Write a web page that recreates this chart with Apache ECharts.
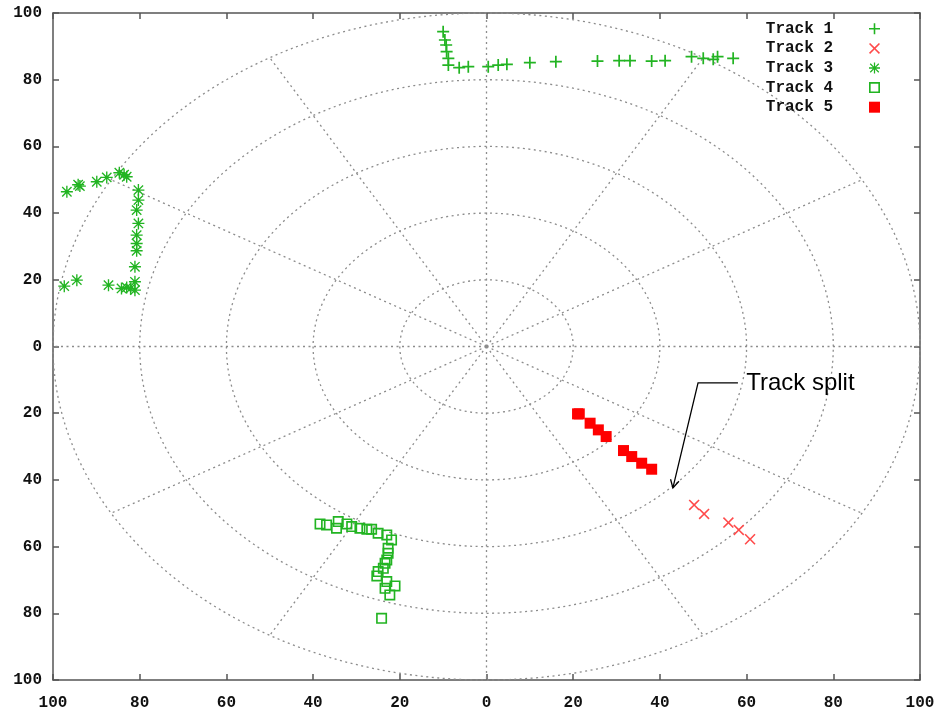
<!DOCTYPE html>
<html><head><meta charset="utf-8">
<script src="https://cdn.jsdelivr.net/npm/echarts@6/dist/echarts.min.js"></script>
<style>html,body{margin:0;padding:0;background:#fff}#c{width:945px;height:713px}</style>
</head><body><div id="c"></div>
<script>
// ---- data ----
const seriesNames = ['Track 1', 'Track 2', 'Track 3', 'Track 4', 'Track 5'];
const tickLabels = ['100', '80', '60', '40', '20', '0', '20', '40', '60', '80', '100'];

const track1X = [-10.0, -9.6, -9.3, -9.2, -8.8, -8.8, -6.3, -4.2, 0.4, 2.7, 4.7, 10.0, 16.0, 25.6, 30.6, 33.1, 38.1, 41.2, 47.3, 50.0, 52.3, 53.3, 56.9];
const track1Y = [94.4, 91.9, 90.4, 88.4, 86.4, 84.4, 83.6, 83.9, 83.9, 84.4, 84.6, 85.1, 85.4, 85.6, 85.7, 85.7, 85.6, 85.7, 86.9, 86.4, 86.1, 86.9, 86.4];

const track2X = [47.9, 50.2, 55.8, 58.2, 60.8];
const track2Y = [-47.5, -50.2, -52.8, -55.0, -57.8];

const track3X = [-96.8, -93.8, -94.2, -89.9, -87.6, -84.7, -83.6, -83.0, -80.3, -80.3, -80.7, -80.3, -80.7, -80.7, -80.7, -81.1, -81.1, -81.1, -82.1, -83.0, -84.2, -87.2, -94.5, -97.4];
const track3Y = [46.4, 48.1, 48.5, 49.4, 50.7, 52.1, 51.5, 50.9, 46.9, 43.9, 40.9, 36.9, 33.4, 30.9, 28.7, 23.9, 19.4, 16.9, 17.4, 17.7, 17.4, 18.4, 19.9, 18.1];

const track4X = [-38.4, -36.9, -34.2, -34.6, -32.2, -31.1, -29.2, -27.6, -26.5, -25.0, -23.0, -21.9, -22.7, -22.7, -23.0, -23.4, -23.8, -25.0, -25.3, -23.0, -21.1, -23.4, -22.3, -24.2];
const track4Y = [-53.2, -53.5, -52.5, -54.5, -53.2, -54.0, -54.5, -54.8, -54.8, -56.0, -56.5, -58.0, -60.5, -62.0, -64.0, -65.0, -66.5, -67.5, -68.8, -70.5, -71.8, -72.5, -74.5, -81.5];

const track5X = [21.0, 21.4, 23.9, 25.8, 27.6, 31.6, 33.5, 35.8, 38.1];
const track5Y = [-20.2, -20.2, -23.0, -25.0, -27.0, -31.2, -33.0, -35.0, -36.8];

// polar grid
const gridRadii = [20, 40, 60, 80, 100];
const gridAngles = [0, 30, 60, 90, 120, 150, 180, 210, 240, 270, 300, 330];

// annotation (data coordinates)
const annotationText = 'Track split';
const annotationPath = [[58.0, -10.9], [48.8, -10.9], [43.0, -42.4]];
const annotationTextAt = [59.9, -11.2];

// ---- helpers ----
const zip = (xs, ys) => xs.map((x, i) => [x, ys[i]]);
const GREEN = '#22b422';
const gridColor = '#8c8c8c';
const monoFont = 'Liberation Mono';

const symPlus = 'path://M6,0h2v6h6v2h-6v6h-2v-6h-6v-2h6z';
const symCross = 'path://M0,1.4L1.4,0L7,5.6L12.6,0L14,1.4L8.4,7L14,12.6L12.6,14L7,8.4L1.4,14L0,12.6L5.6,7Z';
const symStar = 'path://M6.2,0h1.6v6.2h6.2v1.6h-6.2v6.2h-1.6v-6.2h-6.2v-1.6h6.2z M1,2.1L2.1,1L7,5.9L11.9,1L13,2.1L8.1,7L13,11.9L11.9,13L7,8.1L2.1,13L1,11.9L5.9,7Z';
const symEmptySq = 'path://M0,0h10v10h-10z M1.5,1.5v7h7v-7z';
const symFullSq = 'rect';

function axis(pos, showLabel, margin) {
  return {
    type: 'value', min: -100, max: 100, interval: 20, position: pos,
    axisLine: { show: true, onZero: false, lineStyle: { color: '#555', width: 1.5 } },
    axisTick: { show: true, inside: true, length: 6, lineStyle: { color: '#555', width: 1.5 } },
    axisLabel: {
      show: showLabel, margin: margin, showMinLabel: true, showMaxLabel: true,
      formatter: v => tickLabels[Math.round((v + 100) / 20)],
      fontFamily: monoFont, fontWeight: 'bold', fontSize: 16, color: '#111'
    },
    splitLine: { show: false }
  };
}

const chart = echarts.init(document.getElementById('c'), null, { renderer: 'canvas' });

const option = {
  animation: false,
  backgroundColor: '#fff',
  grid: { left: 53, top: 13, right: 25, bottom: 33, containLabel: false, outerBoundsMode: 'none' },
  xAxis: [axis('bottom', true, 15), axis('top', false, 8)],
  yAxis: [axis('left', true, 11), axis('right', false, 8)],
  legend: {
    orient: 'vertical', right: 60, top: 14, align: 'right',
    itemWidth: 11, itemHeight: 11, itemGap: 0, selectedMode: false,
    textStyle: { fontFamily: monoFont, fontWeight: 'bold', fontSize: 16, color: '#111', lineHeight: 19.6, padding: [0, 31, 0, 0] },
    data: seriesNames
  },
  series: [
    {
      type: 'custom', name: 'ringsGrid', silent: true, z: 1, clip: false,
      data: gridRadii.map(r => [0, 0, r]),
      renderItem: function (params, api) {
        const r = api.value(2);
        const pts = [];
        for (let k = 0; k <= 240; k++) {
          const t = k * 2 * Math.PI / 240;
          pts.push(api.coord([r * Math.cos(t), r * Math.sin(t)]));
        }
        return { type: 'polyline', shape: { points: pts }, silent: true,
          style: { stroke: gridColor, lineWidth: 1.3, lineDash: [2, 3.5], fill: null } };
      }
    },
    {
      type: 'custom', name: 'spokesGrid', silent: true, z: 1, clip: false,
      data: gridAngles.map(a => [0, 0, a]),
      renderItem: function (params, api) {
        const a = api.value(2) * Math.PI / 180;
        const R = gridRadii[gridRadii.length - 1];
        const p0 = api.coord([0, 0]);
        const p1 = api.coord([R * Math.cos(a), R * Math.sin(a)]);
        return { type: 'line', shape: { x1: p0[0], y1: p0[1], x2: p1[0], y2: p1[1] }, silent: true,
          style: { stroke: gridColor, lineWidth: 1.3, lineDash: [2, 3.5] } };
      }
    },
    { type: 'scatter', name: seriesNames[0], data: zip(track1X, track1Y), symbol: symPlus, symbolSize: 12, itemStyle: { color: GREEN, opacity: 1 }, z: 3 },
    { type: 'scatter', name: seriesNames[1], data: zip(track2X, track2Y), symbol: symCross, symbolSize: 11, itemStyle: { color: '#ff4a4a', opacity: 1 }, z: 3 },
    { type: 'scatter', name: seriesNames[2], data: zip(track3X, track3Y), symbol: symStar, symbolSize: 12, itemStyle: { color: GREEN, opacity: 1 }, z: 3 },
    { type: 'scatter', name: seriesNames[3], data: zip(track4X, track4Y), symbol: symEmptySq, symbolSize: 11, itemStyle: { color: GREEN, opacity: 1 }, z: 3 },
    { type: 'scatter', name: seriesNames[4], data: zip(track5X, track5Y), symbol: symFullSq, symbolSize: 11, itemStyle: { color: '#ff0000', opacity: 1 }, z: 3 },
    {
      type: 'custom', name: 'annotation', silent: true, z: 4, clip: false,
      data: [[0, 0]],
      renderItem: function (params, api) {
        const pts = annotationPath.map(p => api.coord(p));
        const tip = pts[pts.length - 1];
        const prev = pts[pts.length - 2];
        const ang = Math.atan2(tip[1] - prev[1], tip[0] - prev[0]);
        const L = 9, spread = 0.5;
        const w1 = [tip[0] - L * Math.cos(ang - spread), tip[1] - L * Math.sin(ang - spread)];
        const w2 = [tip[0] - L * Math.cos(ang + spread), tip[1] - L * Math.sin(ang + spread)];
        const tp = api.coord(annotationTextAt);
        return {
          type: 'group',
          children: [
            { type: 'polyline', shape: { points: pts }, style: { stroke: '#000', lineWidth: 1.3, fill: null } },
            { type: 'polyline', shape: { points: [w1, tip, w2] }, style: { stroke: '#000', lineWidth: 1.3, fill: null } },
            { type: 'text', x: tp[0], y: tp[1],
              style: { text: annotationText, fill: '#000', font: '24px "Liberation Sans", Arial, sans-serif',
                textAlign: 'left', textVerticalAlign: 'middle', align: 'left', verticalAlign: 'middle' } }
          ]
        };
      }
    }
  ]
};
chart.setOption(option);
</script>
</body></html>
